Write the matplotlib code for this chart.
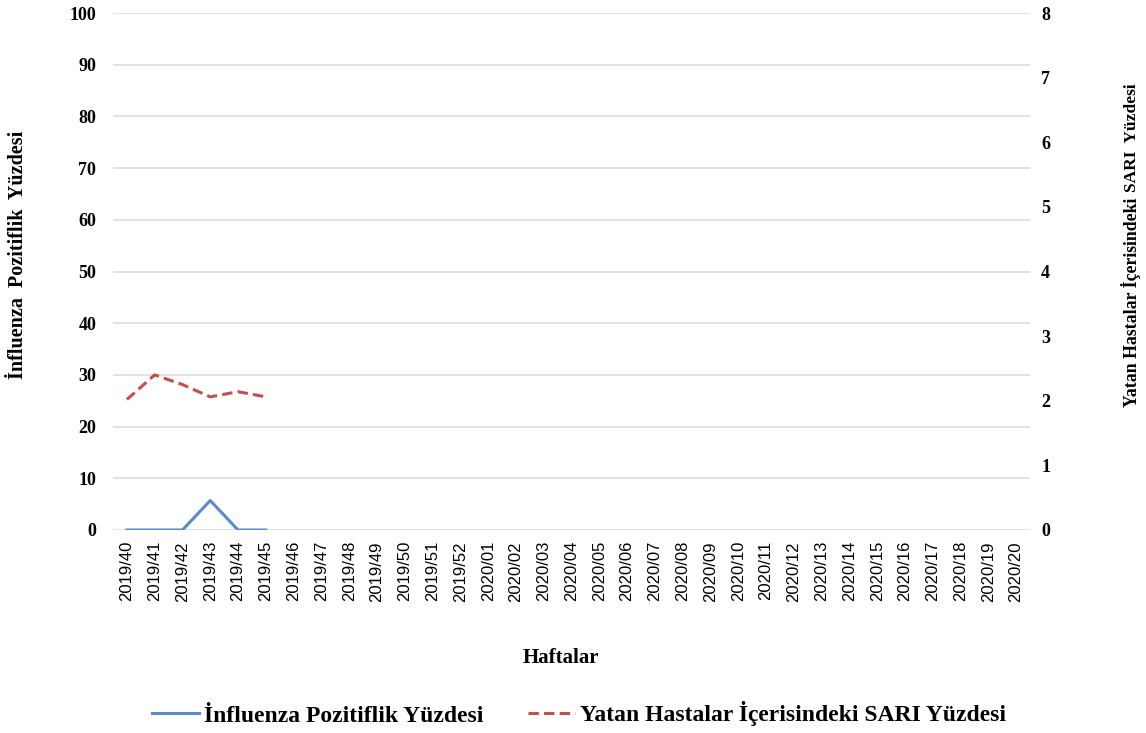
import matplotlib
matplotlib.use("Agg")
import matplotlib.pyplot as plt
from matplotlib.lines import Line2D

weeks = [f"2019/{w}" for w in range(40, 53)] + [f"2020/{w:02d}" for w in range(1, 21)]
influenza = [0, 0, 0, 5.7, 0, 0]
sari = [2.02, 2.40, 2.25, 2.06, 2.14, 2.06]
left_ticks = list(range(0, 101, 10))
right_ticks = list(range(0, 9))

blue = "#5B8BCB"
red = "#C0504D"
serif = ["Liberation Serif", "DejaVu Serif"]
sans = ["Liberation Sans", "DejaVu Sans"]
dash = (0, (3.4, 1.7))

fig = plt.figure(figsize=(11.46, 7.33), dpi=100)
ax = fig.add_axes([113/1146, 1-530/733, (1030-113)/1146, (530-13)/733])
ax2 = ax.twinx()

x = list(range(len(weeks)))
ax.plot(x[:len(influenza)], influenza, color=blue, lw=2.2)
ax2.plot(x[:len(sari)], sari, color=red, lw=2.2, ls=dash)

ax.set_xlim(-0.5, len(weeks) - 0.5)
ax.set_ylim(0, 100)
ax2.set_ylim(0, 8)
ax.set_yticks(left_ticks)
ax2.set_yticks(right_ticks)
ax.set_yticklabels([str(t) for t in left_ticks], fontfamily=serif, fontweight="bold", fontsize=13)
ax2.set_yticklabels([str(t) for t in right_ticks], fontfamily=serif, fontweight="bold", fontsize=13)
ax.set_xticks(x)
ax.set_xticklabels(weeks, rotation=90, fontfamily=sans, fontsize=12)

ax.grid(axis="y", color="#D9D9D9", lw=1.1)
ax.set_axisbelow(True)
for a in (ax, ax2):
    for s in ("top", "left", "right", "bottom"):
        a.spines[s].set_visible(False)
    a.tick_params(length=0)
ax.tick_params(axis="y", pad=12)
ax2.tick_params(axis="y", pad=8)
ax.tick_params(axis="x", pad=8)

fig.text(18/1146, 1-255/733, "İnfluenza  Pozitiflik  Yüzdesi", rotation=90, ha="center", va="center",
         fontfamily=serif, fontweight="bold", fontsize=14.5)
fig.text(1131/1146, 1-198/733, "Yatan Hastalar İçerisindeki", rotation=90, ha="center", va="top",
         fontfamily=serif, fontweight="bold", fontsize=12.8)
fig.text(1132/1146, 1-192/733, "SARI  Yüzdesi", rotation=90, ha="center", va="bottom",
         fontfamily=serif, fontweight="bold", fontsize=12.5)
fig.text(561/1146, 1-658/733, "Haftalar", ha="center", va="center",
         fontfamily=serif, fontweight="bold", fontsize=15)

handles = [Line2D([], [], color=blue, lw=2.2),
           Line2D([], [], color=red, lw=2.2, ls=dash)]
leg = fig.legend(handles, ["İnfluenza Pozitiflik Yüzdesi", "Yatan Hastalar İçerisindeki SARI Yüzdesi"],
                 loc="center", bbox_to_anchor=(579/1146, 1-714/733), ncol=2, frameon=False,
                 handlelength=2.0, handletextpad=0.2, columnspacing=1.9,
                 prop={"family": serif, "weight": "bold", "size": 17})

fig.savefig("out.png", dpi=100)
